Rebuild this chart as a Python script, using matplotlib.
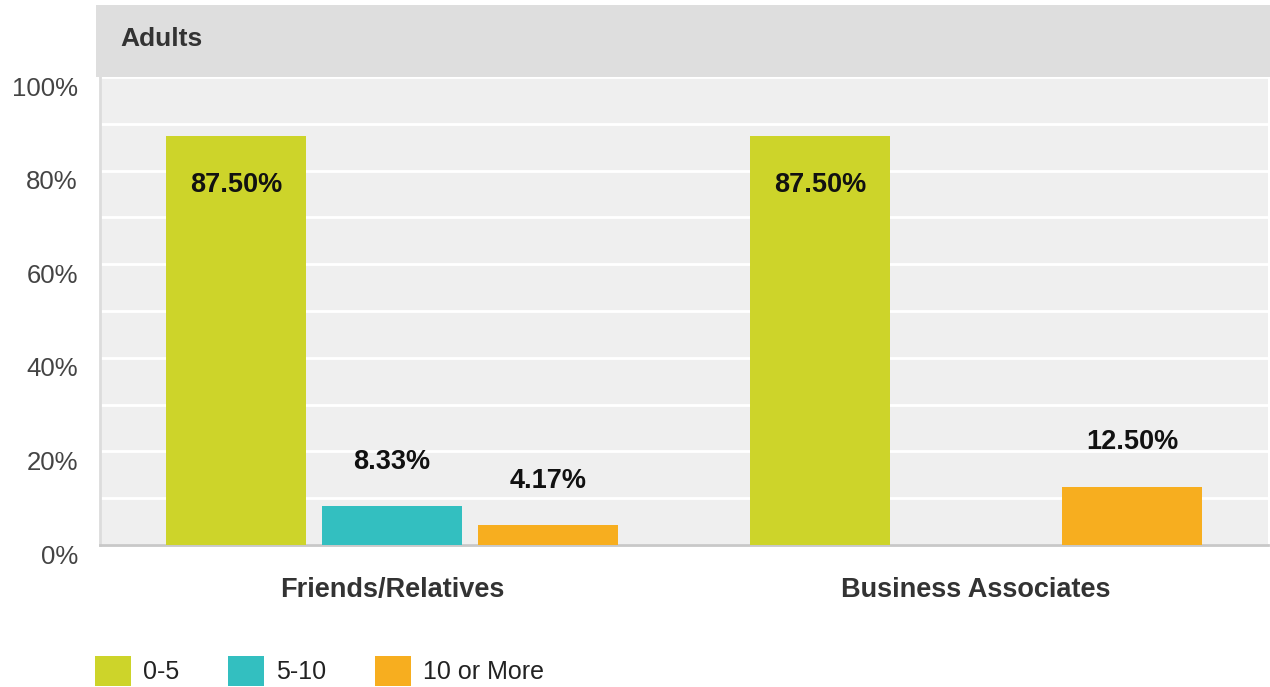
import matplotlib
matplotlib.use("Agg")
import matplotlib.pyplot as plt
import matplotlib.transforms as mtransforms
from matplotlib.patches import Rectangle
import numpy as np

plt.rcParams['font.family'] = ['Liberation Sans', 'DejaVu Sans']

categories = ["Friends/Relatives", "Business Associates"]
series_names = ["0-5", "5-10", "10 or More"]
series_values = [
    [87.50, 87.50],   # 0-5
    [8.33, None],     # 5-10
    [4.17, 12.50],    # 10 or More
]
colors = ["#cdd42a", "#33bfc0", "#f7ae1f"]
y_ticks = [0, 20, 40, 60, 80, 100]
panel_title = "Adults"

W, H = 1270, 687
fig = plt.figure(figsize=(W / 100, H / 100), dpi=100)
fig.patch.set_facecolor("white")

# panel header strip
fig.patches.append(Rectangle((96 / W, 1 - 77 / H), (W - 96) / W, 72 / H,
                             transform=fig.transFigure, facecolor="#dedede",
                             edgecolor="none", zorder=0))
fig.text(120 / W, 1 - 39 / H, panel_title, fontsize=19, fontweight="bold",
         color="#333333", va="center", ha="left")

ax = fig.add_axes([100 / W, 1 - 545 / H, 1168 / W, 468 / H])
ax.set_facecolor("#efefef")

x = np.arange(len(categories))
width = 0.239
offsets = [-0.267, 0.0, 0.267]

for vals, off, col, name in zip(series_values, offsets, colors, series_names):
    xs = [xi + off for xi, v in zip(x, vals) if v is not None]
    vs = [v for v in vals if v is not None]
    bars = ax.bar(xs, vs, width=width, color=col, label=name, zorder=3,
                  edgecolor="none")
    for b, v in zip(bars, vs):
        cx = b.get_x() + b.get_width() / 2
        dy = -36 if v > 50 else 32
        ax.annotate(f"{v:.2f}%", (cx, v), xytext=(0, dy), textcoords="offset points",
                    ha="center", va="center", fontsize=19.5, fontweight="bold",
                    color="#111111", zorder=4)

ax.set_xlim(-0.5, len(categories) - 0.5)
ax.set_ylim(0, 100)
ax.set_yticks(y_ticks)
ax.set_yticklabels([f"{t}%" for t in y_ticks])
ax.set_yticks(np.arange(10, 100, 10), minor=True)
ax.grid(axis="y", which="both", color="white", linewidth=2, zorder=1)
ax.set_axisbelow(True)
ax.tick_params(axis="y", which="both", length=0, pad=16, labelsize=18.5,
               labelcolor="#444444")
ax.set_xticks(x)
ax.set_xticklabels(categories, fontweight="bold", fontsize=19.5, color="#333333")
ax.tick_params(axis="x", length=0, pad=23)

offset = mtransforms.ScaledTranslation(0, -9 / 100, fig.dpi_scale_trans)
for lab in ax.get_yticklabels():
    lab.set_transform(lab.get_transform() + offset)

for s in ["top", "right"]:
    ax.spines[s].set_visible(False)
ax.spines["left"].set_color("#dcdcdc")
ax.spines["left"].set_linewidth(2)
ax.spines["bottom"].set_color("#c8c8c8")
ax.spines["bottom"].set_linewidth(2)

leg = fig.legend(loc="lower left", bbox_to_anchor=(95 / W, 1 / H), ncol=3,
                 frameon=False, fontsize=18, handlelength=1.44, handleheight=1.45,
                 handletextpad=0.48, columnspacing=1.96, borderaxespad=0,
                 borderpad=0)
for t in leg.get_texts():
    t.set_color("#222222")

fig.savefig("out.png", dpi=100)
